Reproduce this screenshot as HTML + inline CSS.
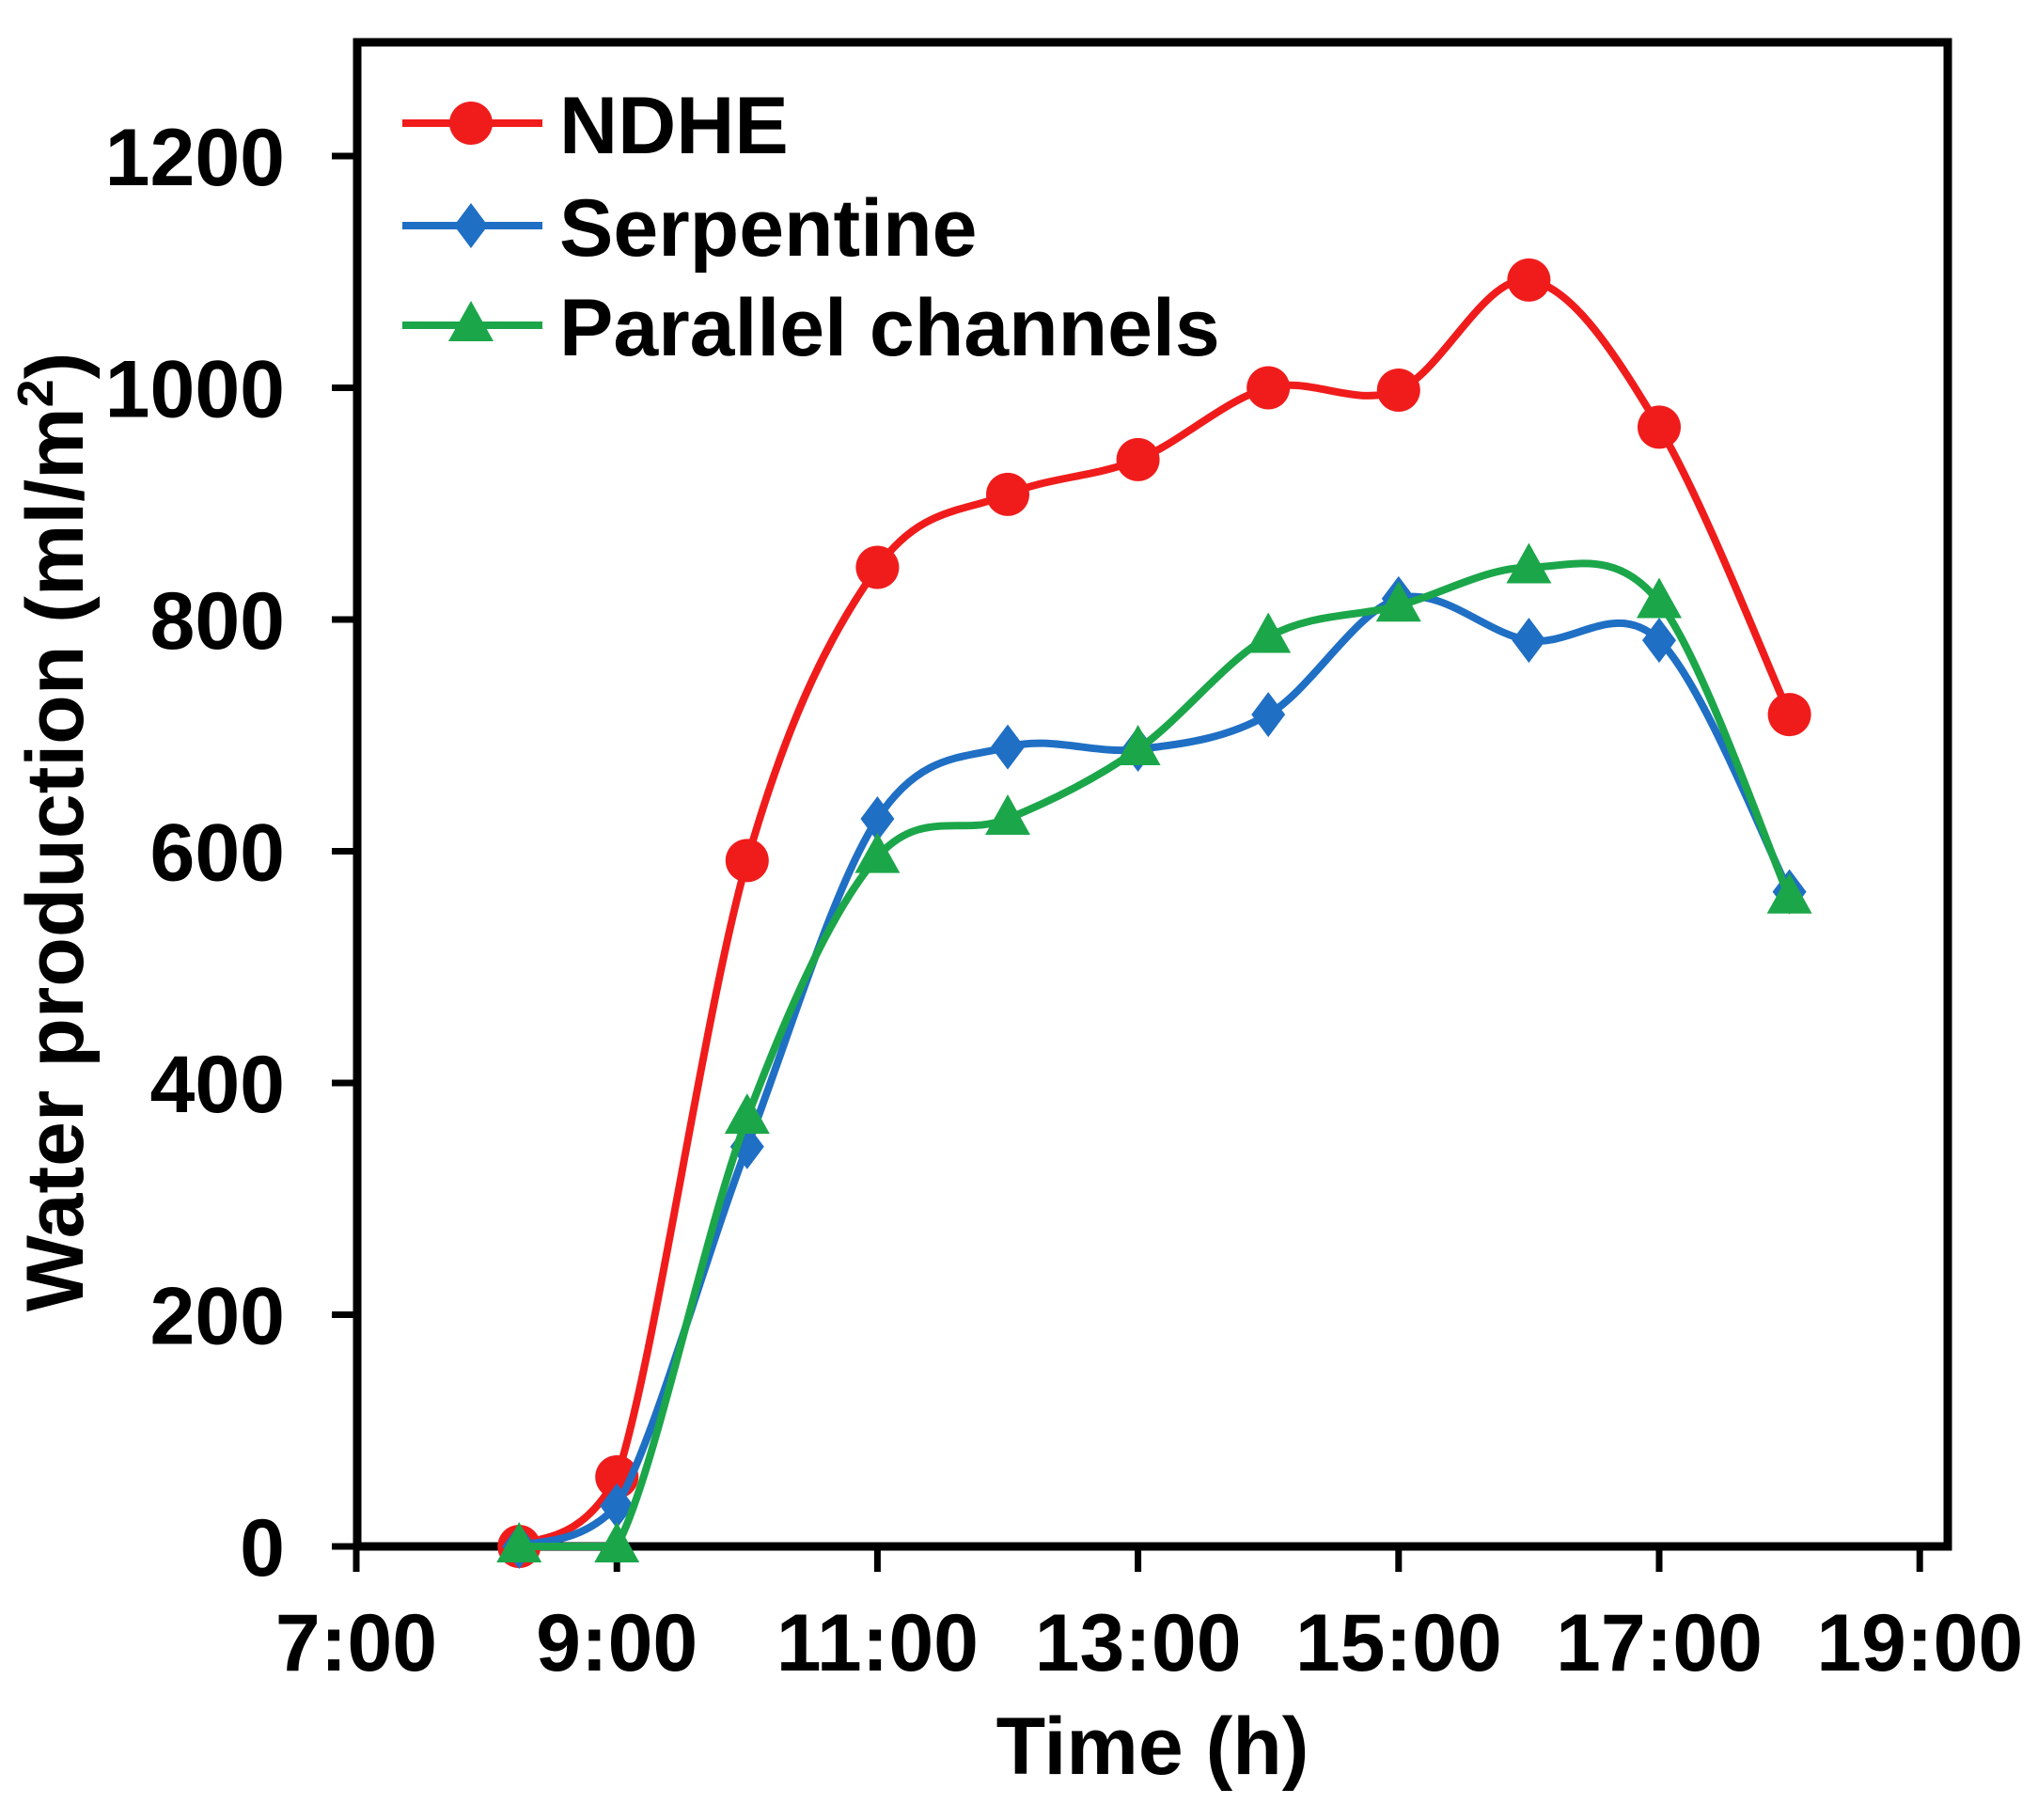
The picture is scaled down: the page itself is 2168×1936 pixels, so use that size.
<!DOCTYPE html>
<html><head><meta charset="utf-8"><style>
html,body{margin:0;padding:0;background:#fff;}
svg{display:block;}
text{font-family:"Liberation Sans",Arial,sans-serif;font-weight:bold;fill:#000;}
</style></head><body>
<svg id="chart" width="2168" height="1936" viewBox="0 0 2168 1936" xmlns="http://www.w3.org/2000/svg">
<rect x="380" y="45" width="1692" height="1600" fill="none" stroke="#000" stroke-width="9"/>
<g id="axes"></g><g id="series"></g>
<text x="1226" y="1887" font-size="86" text-anchor="middle">Time (h)</text>
<text transform="translate(88,885) rotate(-90)" font-size="86" text-anchor="middle">Water production (ml/m<tspan font-size="54" dy="-32">2</tspan><tspan dy="32">)</tspan></text>
<g id="legend"></g>
</svg>
<script>
const hours=[8.25,9,10,11,12,13,14,15,16,17,18];
const ndhe=[0,60,592,845,908,938,1000,998,1093,966,718];
const serp=[0,35,345,628,690,688,718,818,782,782,565];
const para=[0,0,370,595,628,688,785,812,845,815,560];
const xTicks=[7,9,11,13,15,17,19];
const xTickLabels=["7:00","9:00","11:00","13:00","15:00","17:00","19:00"];
const yTicks=[0,200,400,600,800,1000,1200];
const seriesNames=["NDHE","Serpentine","Parallel channels"];

const NS="http://www.w3.org/2000/svg";
function X(h){return 379+(h-7)*138.6;}
function Y(v){return 1645-v*1.2325;}
function mk(tag,attrs,parent){const e=document.createElementNS(NS,tag);for(const k in attrs)e.setAttribute(k,attrs[k]);parent.appendChild(e);return e;}
const axes=document.getElementById('axes');
xTicks.forEach((t,i)=>{
  const l=mk('line',{x1:X(t),x2:X(t),y1:1645,y2:1672,stroke:'#000','stroke-width':7},axes);
  
  
  const tx=mk('text',{x:X(t),y:1777,'font-size':86,'text-anchor':'middle'},axes);
  tx.textContent=xTickLabels[i];
  
  
});
yTicks.forEach(t=>{
  const l=mk('line',{x1:353,x2:380,y1:Y(t),y2:Y(t),stroke:'#000','stroke-width':7},axes);
  
  
  const tx=mk('text',{x:303,y:Y(t)+31,'font-size':86,'text-anchor':'end'},axes);
  tx.textContent=String(t);
  
  
});
function smooth(pts){
  let d='M'+pts[0][0]+','+pts[0][1];
  const base=Y(0);
  for(let i=0;i<pts.length-1;i++){
    const p0=pts[i-1]||pts[i],p1=pts[i],p2=pts[i+1],p3=pts[i+2]||pts[i+1];
    const t=1/6;
    const c1=[p1[0]+(p2[0]-p0[0])*t,Math.min(base,p1[1]+(p2[1]-p0[1])*t)];
    const c2=[p2[0]-(p3[0]-p1[0])*t,Math.min(base,p2[1]-(p3[1]-p1[1])*t)];
    d+=' C'+c1+' '+c2+' '+p2;
  }
  return d;
}
function marker(type,x,y,color,parent){
  let e;
  if(type==='circle')e=mk('circle',{cx:x,cy:y,r:23,fill:color},parent);
  else if(type==='diamond')e=mk('polygon',{points:`${x},${y-24} ${x+18},${y} ${x},${y+24} ${x-18},${y}`,fill:color},parent);
  else e=mk('polygon',{points:`${x},${y-26} ${x+24},${y+17} ${x-24},${y+17}`,fill:color},parent);
  return e;
}
const ser=document.getElementById('series');
const defs=[[ndhe,'#f01c1c','circle','ndhe'],[serp,'#1f6fc4','diamond','serpentine'],[para,'#1ca64a','triangle','parallel-channels']];
defs.forEach(([vals,color,type,nm])=>{
  const g=mk('g',{},ser);
  
  
  const pts=vals.map((v,i)=>[X(hours[i]),Y(v)]);
  const p=mk('path',{d:smooth(pts),fill:'none',stroke:color,'stroke-width':8},g);
  
  
  pts.forEach(pt=>{
    const m=marker(type,pt[0],pt[1],color,g);
    
    
  });
});
const leg=document.getElementById('legend');


const ly=[131,240,346];
defs.forEach(([vals,color,type,nm],i)=>{
  const g=mk('g',{},leg);
  
  
  mk('line',{x1:428,x2:577,y1:ly[i],y2:ly[i],stroke:color,'stroke-width':8},g);
  marker(type,501,ly[i],color,g);
  const t=mk('text',{x:595,y:ly[i]+32,'font-size':86},g);
  t.textContent=seriesNames[i];
});
</script>
</body></html>
